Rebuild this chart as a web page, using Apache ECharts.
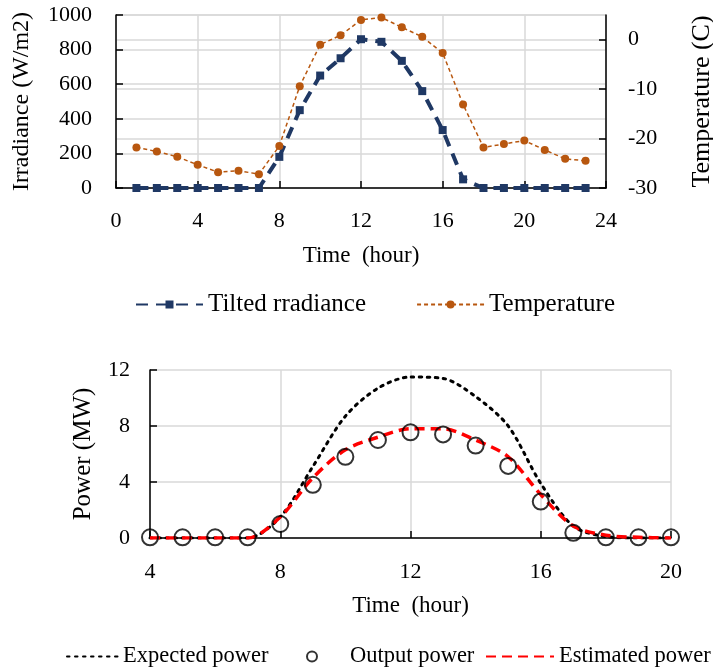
<!DOCTYPE html>
<html>
<head>
<meta charset="utf-8">
<script src="https://cdn.jsdelivr.net/npm/echarts@6/dist/echarts.min.js"></script>
<style>
  html, body { margin: 0; padding: 0; background: #fff; }
  #chart { width: 713px; height: 668px; }
</style>
</head>
<body>
<div id="chart"></div>
<script>
// top panel: hourly irradiance and temperature
let hours = [1, 2, 3, 4, 5, 6, 7, 8, 9, 10, 11, 12, 13, 14, 15, 16, 17, 18, 19, 20, 21, 22, 23];
let irradiance = [0, 0, 0, 0, 0, 0, 0, 180, 450, 650, 750, 860, 845, 735, 560, 335, 50, 0, 0, 0, 0, 0, 0];
let temperature = [-21.8, -22.6, -23.7, -25.3, -26.8, -26.5, -27.2, -21.5, -9.4, -1.0, 0.9, 4.0, 4.5, 2.5, 0.6, -2.7, -13.1, -21.8, -21.1, -20.4, -22.3, -24.1, -24.5];

// bottom panel: power
let powerHours = [4, 5, 6, 7, 8, 9, 10, 11, 12, 13, 14, 15, 16, 17, 18, 19, 20];
let expectedPower = [0, 0, 0, 0, 1.5, 5.1, 8.7, 10.7, 11.5, 11.4, 10.1, 8.0, 3.9, 0.85, 0.1, 0, 0];
let outputPower = [0.05, 0.05, 0.05, 0.05, 1.0, 3.8, 5.8, 7.0, 7.55, 7.4, 6.6, 5.15, 2.6, 0.37, 0.05, 0.05, 0.05];
let estimatedPower = [0, 0, 0, 0, 1.5, 4.3, 6.3, 7.2, 7.8, 7.8, 7.0, 5.8, 3.1, 0.85, 0.2, 0.05, 0];

function pairs(xs, ys) {
    return xs.map((x, i) => [x, ys[i]]);
}

let font = "Liberation Serif";
let gridColor = "#d9d9d9";
function txt(size) {
    return { color: "#000", fontFamily: font, fontSize: size };
}

function valueAxis(extra, labelMargin, nameSize) {
    return Object.assign({
        type: "value",
        axisLine: { show: true, lineStyle: { color: "#000", width: 1.5 } },
        axisTick: { show: true, inside: true, length: 7, lineStyle: { color: "#000", width: 1.5 } },
        splitLine: { show: true, lineStyle: { color: gridColor, width: 1.5 } },
        axisLabel: Object.assign({ margin: labelMargin, formatter: v => String(v) }, txt(22)),
        nameTextStyle: txt(nameSize),
        nameLocation: "middle"
    }, extra);
}

let option = {
    animation: false,
    textStyle: { fontFamily: font },
    grid: [
        { left: 116, top: 15, width: 490, height: 173, outerBoundsMode: "none", containLabel: false },
        { left: 150, top: 370, width: 521, height: 168, outerBoundsMode: "none", containLabel: false }
    ],
    legend: [
        {
            left: 130, top: 287,
            itemWidth: 67, itemHeight: 10, itemGap: 50,
            textStyle: txt(25),
            data: ["Tilted rradiance", "Temperature"]
        },
        {
            left: 61, top: 640,
            itemWidth: 51, itemHeight: 10,
            textStyle: txt(22.5),
            data: [{ name: "Expected power", itemStyle: { opacity: 0 } }]
        },
        {
            left: 301, top: 640,
            itemWidth: 66, itemHeight: 10,
            textStyle: txt(22.5),
            data: ["Output power"]
        },
        {
            left: 480, top: 640,
            itemWidth: 68, itemHeight: 10,
            textStyle: txt(22.5),
            data: [{ name: "Estimated power", itemStyle: { opacity: 0 } }]
        }
    ],
    xAxis: [
        valueAxis({ gridIndex: 0, min: 0, max: 24, interval: 4, name: "Time  (hour)", nameGap: 56 }, 22, 23),
        valueAxis({ gridIndex: 1, min: 4, max: 20, interval: 4, name: "Time  (hour)", nameGap: 56 }, 23, 23)
    ],
    yAxis: [
        valueAxis({ gridIndex: 0, min: 0, max: 1000, interval: 200, name: "Irradiance (W/m2)",
            nameGap: 82, nameRotate: 90 }, 24, 24),
        Object.assign(valueAxis({ gridIndex: 0, position: "right", min: -30, max: 5, interval: 10,
            name: "Temperature (C)", nameGap: 83, nameRotate: 90 }, 22, 26),
            { axisLabel: Object.assign({ margin: 22, showMaxLabel: false, formatter: v => String(v) }, txt(22)) }),
        valueAxis({ gridIndex: 1, min: 0, max: 12, interval: 4, name: "Power (MW)",
            nameGap: 54, nameRotate: 90 }, 20, 25)
    ],
    series: [
        {
            name: "Tilted rradiance",
            type: "line",
            xAxisIndex: 0, yAxisIndex: 0,
            data: pairs(hours, irradiance),
            symbol: "rect", symbolSize: 8,
            itemStyle: { color: "#1f3864" },
            lineStyle: { color: "#1f3864", width: 4, type: [12, 8] }
        },
        {
            name: "Temperature",
            type: "line",
            xAxisIndex: 0, yAxisIndex: 1,
            data: pairs(hours, temperature),
            symbol: "circle", symbolSize: 8,
            itemStyle: { color: "#b8570f" },
            lineStyle: { color: "#b8570f", width: 1.5, type: [4, 3] }
        },
        {
            name: "Expected power",
            type: "line",
            xAxisIndex: 1, yAxisIndex: 2,
            data: pairs(powerHours, expectedPower),
            smooth: 0.3,
            showSymbol: false, symbol: "none",
            itemStyle: { color: "#000" },
            lineStyle: { color: "#000", width: 3, type: [2.5, 5.5], cap: "round" }
        },
        {
            name: "Output power",
            type: "scatter",
            xAxisIndex: 1, yAxisIndex: 2,
            data: pairs(powerHours, outputPower),
            symbol: "circle", symbolSize: 16,
            itemStyle: { color: "rgba(255,255,255,0)", borderColor: "#000", borderWidth: 2 },
            z: 5
        },
        {
            name: "Estimated power",
            type: "line",
            xAxisIndex: 1, yAxisIndex: 2,
            data: pairs(powerHours, estimatedPower),
            smooth: 0.3,
            showSymbol: false, symbol: "none",
            itemStyle: { color: "#ff0000" },
            lineStyle: { color: "#ff0000", width: 3.5, type: [10, 6] },
            z: 4
        }
    ]
};

let chart = echarts.init(document.getElementById("chart"));
chart.setOption(option);
</script>
</body>
</html>
